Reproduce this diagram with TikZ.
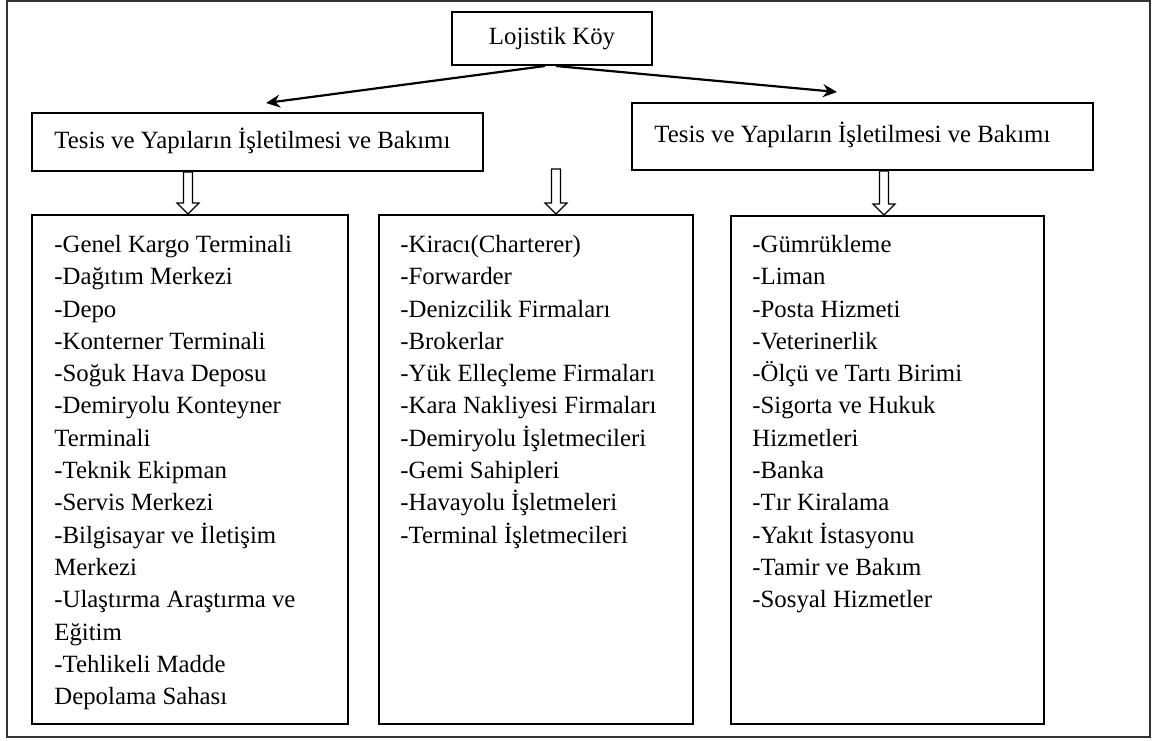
\documentclass[tikz,border=0pt]{standalone}
\usepackage{fontspec}
\setmainfont{Liberation Serif}
\usetikzlibrary{arrows.meta,calc}
\newcommand\hollowarrow[2]{%
  \draw[hollow] ($(#1)+(-4.5,0)$) -- ($(#2)+(-4.5,-11)$) -- ($(#2)+(-11,-11)$) -- (#2)
    -- ($(#2)+(11,-11)$) -- ($(#2)+(4.5,-11)$) -- ($(#1)+(4.5,0)$) -- cycle;}
\begin{document}
\begin{tikzpicture}[x=0.5pt,y=-0.5pt,
  box/.style={draw=black, line width=1pt, inner sep=0pt},
  lbl/.style={font=\fontsize{12.4}{14}\selectfont},
  hdr/.style={anchor=west, inner sep=0pt, font=\fontsize{12.4}{14}\selectfont},
  list/.style={anchor=north west, inner sep=0pt, align=left, font=\fontsize{12.4}{16.15}\selectfont},
  link/.style={line width=1.1pt, -{Stealth[length=7pt,width=6.5pt]}},
  hollow/.style={draw=black, line width=0.6pt, fill=white}
]
\useasboundingbox (0,0) rectangle (1155,740);
\draw[line width=1pt, draw=black!80] (7,1) rectangle (1150,737);

\node[box, lbl, minimum width=100pt, minimum height=26.5pt] (top) at (552,38.5) {Lojistik Köy};

\node[box, minimum width=225.5pt, minimum height=29pt] (hl) at (257.5,142) {};
\node[hdr] (hlt) at ([xshift=11.5pt,yshift=0.5pt]hl.west) {Tesis ve Yapıların İşletilmesi ve Bakımı};
\node[box, minimum width=230.5pt, minimum height=33.5pt] (hr) at (862.5,136.5) {};
\node[hdr] (hrt) at ([xshift=11.5pt,yshift=1pt]hr.west) {Tesis ve Yapıların İşletilmesi ve Bakımı};

\node[box, minimum width=158pt, minimum height=254.5pt] (cl) at (190,469.5) {};
\node[box, minimum width=157pt, minimum height=254.5pt] (cm) at (536,469.5) {};
\node[box, minimum width=156.5pt, minimum height=254pt] (cr) at (887.5,470) {};

\node[list] (tl) at (54,229.4) {\strut -Genel Kargo Terminali\\-Dağıtım Merkezi\\-Depo\\-Konterner Terminali\\-Soğuk Hava Deposu\\-Demiryolu Konteyner\\Terminali\\-Teknik Ekipman\\-Servis Merkezi\\-Bilgisayar ve İletişim\\Merkezi\\-Ulaştırma Araştırma ve\\Eğitim\\-Tehlikeli Madde\\Depolama Sahası};
\node[list] (tm) at (400,229.4) {\strut -Kiracı(Charterer)\\-Forwarder\\-Denizcilik Firmaları\\-Brokerlar\\-Yük Elleçleme Firmaları\\-Kara Nakliyesi Firmaları\\-Demiryolu İşletmecileri\\-Gemi Sahipleri\\-Havayolu İşletmeleri\\-Terminal İşletmecileri};
\node[list] (tr) at (752,229.4) {\strut -Gümrükleme\\-Liman\\-Posta Hizmeti\\-Veterinerlik\\-Ölçü ve Tartı Birimi\\-Sigorta ve Hukuk\\Hizmetleri\\-Banka\\-Tır Kiralama\\-Yakıt İstasyonu\\-Tamir ve Bakım\\-Sosyal Hizmetler};

\coordinate (tipL) at (266,103);
\coordinate (tipR) at (837,92);
\draw[link] ([xshift=-3.5pt]top.south) -- (tipL);
\draw[link] ([xshift=2pt]top.south) -- (tipR);

\coordinate (a1s) at ([xshift=-1pt]hl.south -| cl.north);
\coordinate (a1e) at ([xshift=-1pt]cl.north);
\coordinate (a2s) at (556,169);
\coordinate (a2e) at (a2s |- cm.north);
\coordinate (a3s) at ([xshift=-1.75pt]hr.south -| cr.north);
\coordinate (a3e) at ([xshift=-1.75pt]cr.north);
\hollowarrow{a1s}{a1e}
\hollowarrow{a2s}{a2e}
\hollowarrow{a3s}{a3e}
\end{tikzpicture}
\end{document}
